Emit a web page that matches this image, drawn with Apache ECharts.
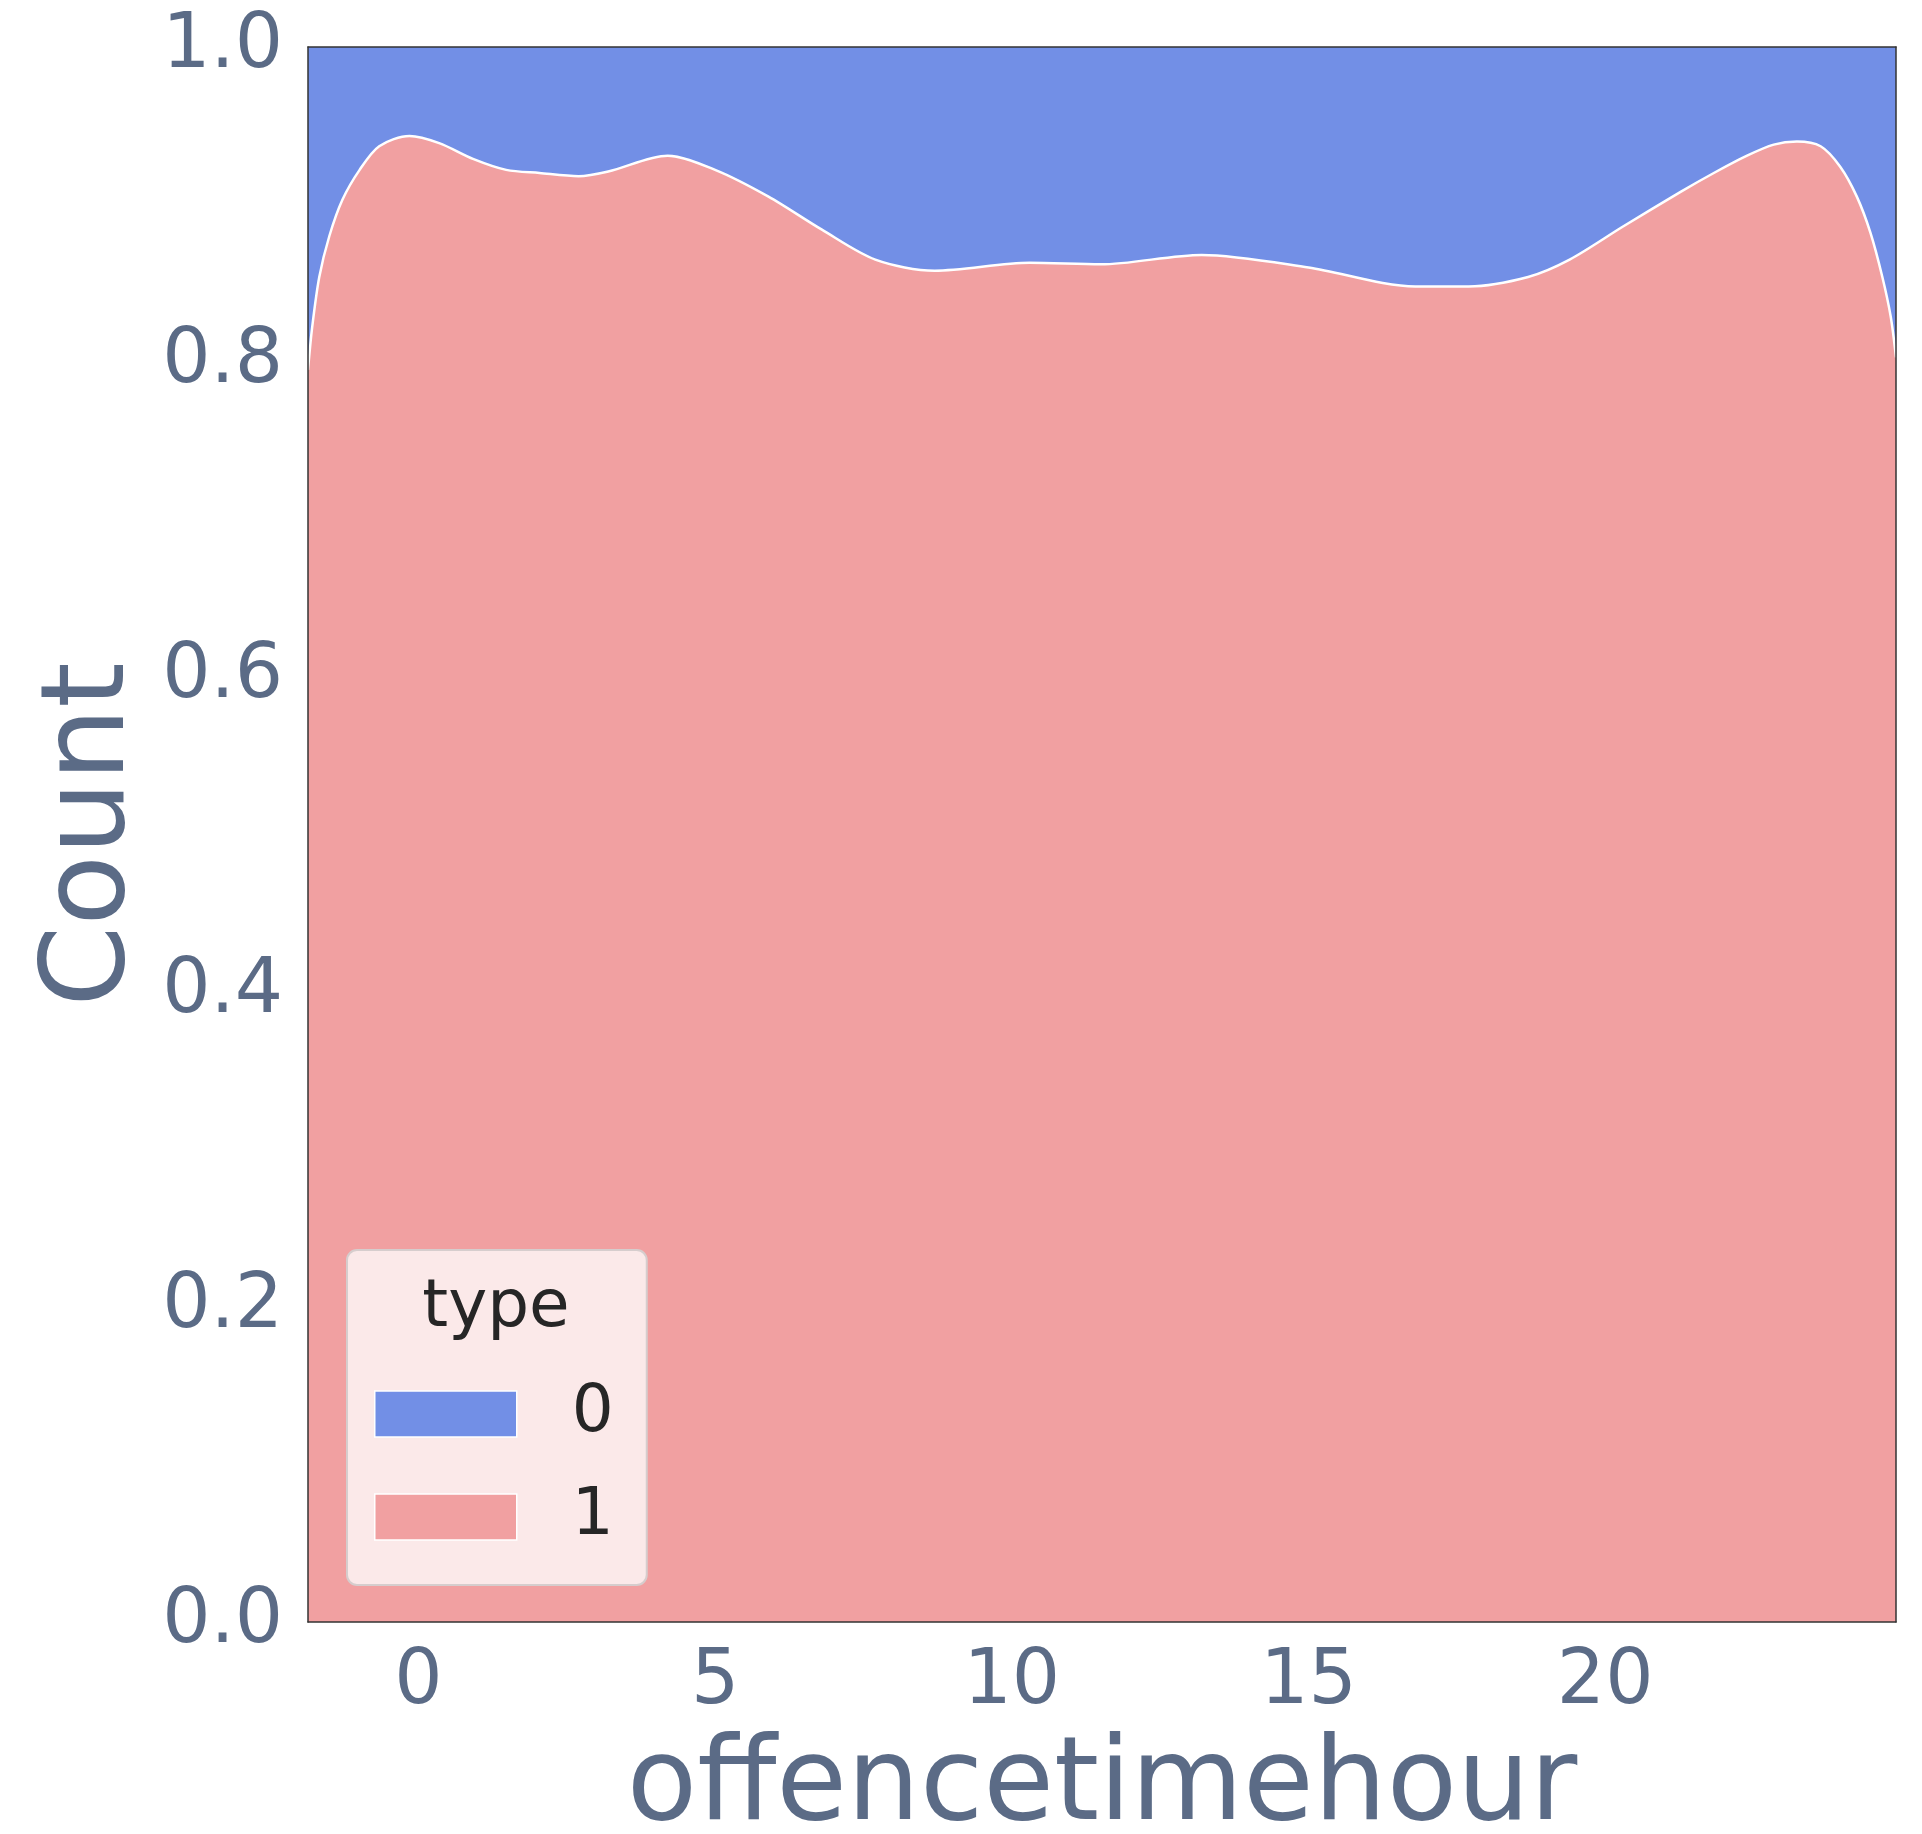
<!DOCTYPE html>
<html>
<head>
<meta charset="utf-8">
<script src="https://cdn.jsdelivr.net/npm/echarts@6/dist/echarts.min.js"></script>
<style>
  html, body { margin: 0; padding: 0; background: #fff; }
  #chart { width: 1922px; height: 1834px; }
</style>
</head>
<body>
<div id="chart"></div>
<script>
  const hours = [-1.86, -1.79, -1.67, -1.5, -1.28, -0.99, -0.66, -0.15, 0.35, 0.92, 1.48, 2.04, 2.7, 3.2,
                 4.2, 5.0, 5.9, 6.8, 7.7, 8.7, 10.3, 11.5, 13.2, 15.0, 16.8, 17.7, 18.7, 19.4, 20.3,
                 21.27, 21.83, 22.39, 22.84, 23.23, 23.63, 23.96, 24.24, 24.47, 24.67, 24.81, 24.9];
  const share1 = [0.795, 0.822, 0.854, 0.880, 0.903, 0.922, 0.937, 0.9435, 0.939, 0.929, 0.922, 0.920, 0.918, 0.921,
                  0.931, 0.922, 0.905, 0.884, 0.865, 0.858, 0.863, 0.862, 0.868, 0.860, 0.848, 0.848, 0.854, 0.865, 0.886,
                  0.908, 0.920, 0.931, 0.938, 0.940, 0.937, 0.924, 0.905, 0.882, 0.854, 0.829, 0.803];
  // type 0 fills the rest, so the cumulative share on top is 1 everywhere
  const shareTotal = share1.map(() => 1);
  const xTicks = [0, 5, 10, 15, 20];
  const typeNames = ['0', '1'];
  const typeColors = ['#728FE6', '#F1A0A1'];

  const labelColor = '#5b6b86';
  const font = 'DejaVu Sans';

  let myChart = echarts.init(document.getElementById('chart'));

  let option = {
    animation: false,
    textStyle: { fontFamily: font },
    grid: { left: 308, right: 26, top: 47, bottom: 212, outerBoundsMode: 'none', containLabel: false },
    legend: {
      orient: 'vertical',
      left: 347,
      top: 1250,
      padding: [131, 33, 35, 27],
      itemWidth: 142,
      itemHeight: 46,
      itemGap: 37,
      icon: 'rect',
      backgroundColor: '#fbe9e9',
      borderColor: '#d6cdcd',
      borderWidth: 2,
      borderRadius: 10,
      textStyle: { fontSize: 66, color: '#262626', fontFamily: font, padding: [0, 0, 0, 50] },
      data: typeNames.map((n, i) => ({
        name: n,
        itemStyle: { color: typeColors[i], borderColor: '#ffffff', borderWidth: 1.5 }
      }))
    },
    graphic: [{
      type: 'text',
      z: 100,
      x: 496,
      y: 1309,
      style: { text: 'type', fill: '#262626', font: '66px "DejaVu Sans"', align: 'center', verticalAlign: 'middle' }
    }],
    xAxis: [{
      type: 'value',
      min: hours[0],
      max: hours[hours.length - 1],
      z: 10,
      name: 'offencetimehour',
      nameLocation: 'middle',
      nameGap: 110,
      nameTextStyle: { fontSize: 115, color: labelColor, fontFamily: font },
      axisLine: { show: true, onZero: false, lineStyle: { color: '#333', width: 1.5 } },
      axisTick: { show: false },
      splitLine: { show: false },
      axisLabel: { customValues: xTicks, fontSize: 76, color: labelColor, margin: 23 }
    }, {
      type: 'value',
      position: 'top',
      min: hours[0],
      max: hours[hours.length - 1],
      z: 10,
      axisLine: { show: true, onZero: false, lineStyle: { color: '#333', width: 1.5 } },
      axisTick: { show: false },
      axisLabel: { show: false },
      splitLine: { show: false }
    }],
    yAxis: [{
      type: 'value',
      min: 0,
      max: 1,
      interval: 0.2,
      z: 10,
      name: 'Count',
      nameLocation: 'middle',
      nameGap: 136,
      nameTextStyle: { fontSize: 116, color: labelColor, fontFamily: font },
      axisLine: { show: true, onZero: false, lineStyle: { color: '#333', width: 1.5 } },
      axisTick: { show: false },
      splitLine: { show: false },
      axisLabel: { fontSize: 76, color: labelColor, margin: 25, padding: [10, 0, 0, 0], formatter: v => v.toFixed(1) }
    }, {
      type: 'value',
      position: 'right',
      min: 0,
      max: 1,
      z: 10,
      axisLine: { show: true, onZero: false, lineStyle: { color: '#333', width: 1.5 } },
      axisTick: { show: false },
      axisLabel: { show: false },
      splitLine: { show: false }
    }],
    series: [{
      name: '0',
      type: 'line',
      symbol: 'none',
      data: hours.map((h, i) => [h, shareTotal[i]]),
      itemStyle: { color: typeColors[0] },
      lineStyle: { width: 0 },
      areaStyle: { color: typeColors[0], opacity: 1, origin: 'start' },
      z: 2
    }, {
      name: '1',
      type: 'line',
      smooth: 0.3,
      symbol: 'none',
      data: hours.map((h, i) => [h, share1[i]]),
      itemStyle: { color: typeColors[1] },
      lineStyle: { color: '#ffffff', width: 2.5 },
      areaStyle: { color: typeColors[1], opacity: 1, origin: 'start' },
      z: 3
    }]
  };

  myChart.setOption(option);
</script>
</body>
</html>
